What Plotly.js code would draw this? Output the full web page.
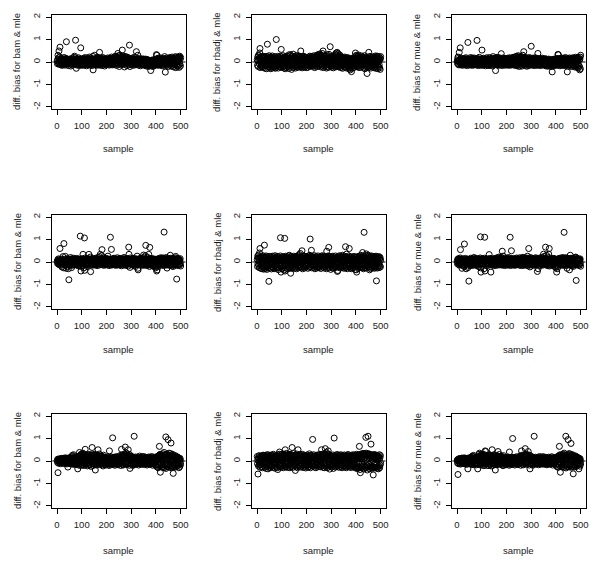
<!DOCTYPE html>
<html>
<head>
<meta charset="utf-8">
<script src="https://cdn.plot.ly/plotly-3.0.1.min.js"></script>
<style>html,body{margin:0;padding:0;background:#fff;}#chart{width:600px;height:565px;}</style>
</head>
<body>
<div id="chart"></div>
<script>
// x tick labels, y tick labels, axis titles
const xTickVals = [0, 100, 200, 300, 400, 500];
const xTickText = ['0', '100', '200', '300', '400', '500'];
const yTickVals = [-2, -1, 0, 1, 2];
const yTickText = ['-2', '-1', '0', '1', '2'];
const xTitle = 'sample';
const yTitles = ['diff. bias for bam & mle', 'diff. bias for rbadj & mle', 'diff. bias for mue & mle'];

// Row 1
const bamR1 = [
.05,-.08,.12,.3,-.04,.18,.02,.49,-.1,.08,.22,.66,-.06,.1,-.12,.04,.15,-.02,.07,-.15,.11,.01,-.09,.14,-.03,
.06,-.11,.09,.2,-.05,.03,-.14,.12,.0,-.07,.16,.04,.9,-.1,.08,-.02,.13,-.08,.05,.1,-.16,.02,.07,-.04,.11,
-.06,.08,.14,-.1,.03,-.18,.09,.01,.12,-.05,.07,-.13,.17,.02,-.08,.1,-.03,.06,.21,-.12,.26,.04,-.07,.13,.97,
.02,-.09,-.28,.11,.05,-.14,.08,.15,-.02,.06,-.11,.19,.0,-.06,.09,-.16,.12,.03,-.08,.14,.63,-.04,.07,-.12,.1,
.04,-.07,.13,-.15,.06,.02,-.1,.17,-.03,.09,-.13,.05,.11,-.06,.2,-.09,.01,.14,-.17,.07,.03,-.05,.12,-.11,.08,
.15,-.02,.06,-.14,.1,.22,-.08,.03,-.12,.09,.18,-.06,.01,.13,-.1,.05,-.16,.11,.07,.25,-.35,.02,-.09,.12,.04,
-.06,.3,.08,-.12,.14,.02,-.07,.19,-.15,.05,.1,-.03,.16,-.1,.07,.21,-.05,.12,-.14,.04,.09,.43,-.08,.13,.01,
-.11,.06,.17,-.04,.1,-.16,.03,.12,-.08,.2,-.02,.07,-.13,.15,.0,-.06,.11,-.18,.05,.09,-.1,.14,-.03,.08,-.12,
.06,.13,-.07,.02,.18,-.11,.09,-.04,.15,.01,-.14,.1,.05,-.08,.16,-.02,.12,-.1,.07,.22,-.05,.03,-.13,.11,.08,
.17,-.06,.1,.02,-.12,.2,.05,.24,-.09,.14,.07,-.03,.26,.12,-.15,.18,.04,-.07,.21,.09,.38,-.1,.15,.28,.02,
.13,-.2,.22,.06,.3,-.04,.17,.1,-.13,.25,.03,.19,-.08,.53,.14,-.05,.27,.08,-.11,.2,.01,.16,-.22,.11,.24,
.07,-.09,.18,.12,-.03,.23,.05,-.16,.14,.09,-.06,.2,.02,-.12,.16,.08,-.04,.75,.11,-.2,.06,.15,-.08,.1,.03,
-.13,.12,.05,-.07,.18,.0,-.1,.14,.08,-.15,.04,.11,-.05,.21,-.09,.06,.13,-.02,.09,-.12,.46,.03,-.08,.15,.01,
-.06,.3,.1,-.14,.07,.02,-.1,.16,-.04,.11,.05,-.17,.08,.13,-.02,-.09,.06,.12,-.13,.03,.09,-.07,.14,.0,-.11,
.04,-.08,.1,-.15,.02,.07,-.12,.13,-.05,.01,-.18,.08,-.03,.11,-.1,.05,-.14,.0,.09,-.2,.03,-.07,.06,-.16,.02,
-.09,.05,-.13,-.38,.01,-.06,.08,-.17,-.02,.04,-.11,.07,-.2,-.04,.1,-.08,.02,-.15,.06,-.1,.12,-.05,.0,-.14,.09,
-.07,.33,.14,.3,-.12,.06,.1,-.04,.17,-.15,.08,.02,-.1,.13,-.06,.19,.04,-.13,.09,-.02,.15,-.09,.07,.11,-.17,
.05,-.08,.12,.01,-.14,.09,.16,-.05,.03,.24,-.11,.07,-.45,.13,-.03,.1,-.16,.06,.18,-.07,.02,-.12,.14,.08,-.2,
.11,-.04,.17,.06,-.13,.09,.2,-.09,.03,.14,-.18,.07,-.02,.12,.22,-.15,.05,-.07,.16,.1,-.22,.04,.13,-.1,.08,
.19,-.12,.06,.24,-.25,.1,.02,-.16,.15,.07,-.08,.21,-.2,.13,.05,-.14,.09,.22,-.24,.17,.26,-.1,.12,-.18,.2
];
const rbadjR1 = [
.1,-.15,.22,.05,-.2,.3,.12,.28,-.08,.18,.4,.6,-.25,.15,.02,-.18,.24,-.1,.08,-.22,.19,.03,-.14,.26,-.05,
.13,-.24,.07,.21,-.12,.16,-.28,.04,.2,-.09,.25,-.16,.1,-.3,.14,.01,.79,-.2,.09,.23,-.13,.17,-.06,.28,-.22,
.06,-.26,.19,-.11,.12,-.3,.22,.02,-.17,.15,-.07,.27,-.21,.09,-.14,.2,.04,-.25,.13,-.03,.24,-.19,.11,-.28,.16,
.07,-.12,1.0,-.23,.18,.03,-.16,.25,-.06,.14,-.27,.1,.21,-.09,.05,-.2,.17,-.13,.26,-.04,.12,-.24,.56,.08,-.15,
.19,-.07,.13,-.22,.28,.02,-.18,.1,-.27,.16,.05,-.12,.23,-.3,.09,.15,-.05,.2,-.24,.11,.27,-.14,.04,.18,-.1,
.24,-.2,.08,-.29,.14,.33,-.11,.06,-.23,.19,.31,-.17,.02,.22,-.33,.12,-.08,.26,-.15,.09,.35,-.25,.15,-.04,.2,
-.19,.1,.25,-.13,.03,-.27,.17,.07,-.21,.29,-.09,.13,-.16,.22,-.02,.18,-.24,.11,-.06,.27,.05,-.14,.2,-.1,.15,
-.22,.49,.08,-.17,.23,-.05,.12,-.26,.19,.02,-.12,.16,-.2,.09,.25,-.08,.14,-.23,.06,.21,-.15,.11,-.03,.18,-.25,
.07,.2,-.13,.04,-.24,.15,.1,-.07,.22,-.18,.03,.13,-.11,.26,-.02,.17,-.2,.08,-.14,.24,.05,-.09,.19,-.16,.12,
-.05,.23,-.19,.1,.28,-.12,.06,-.25,.16,.02,-.15,.2,.09,-.08,.25,-.21,.13,.3,-.1,.18,-.04,.33,-.17,.11,.27,
-.14,.21,.07,.36,-.09,.16,-.22,.3,.12,-.06,.24,-.18,.04,.38,-.13,.19,.49,-.25,.1,.28,-.07,.15,-.2,.23,.02,
-.16,.26,.09,-.11,.18,-.27,.32,.05,-.2,.14,.22,-.08,.1,-.24,.17,.34,-.12,.27,-.04,.13,.68,-.19,.21,.06,-.15,
.11,-.23,.17,.03,-.13,.25,-.07,.2,-.26,.09,.15,-.18,.28,.01,-.1,.22,.35,-.16,.13,.4,-.21,.07,.3,.43,-.09,
.18,-.14,.37,.05,-.22,.26,-.06,.12,-.19,.31,.08,-.11,.2,-.25,.14,.02,-.17,.23,-.08,.16,-.28,.1,.04,-.13,.19,
-.2,.07,.15,-.1,.22,-.24,.03,.12,-.16,.18,-.05,-.27,.09,.14,-.12,.2,-.19,.01,.11,-.22,.16,-.08,-.3,.06,.13,
-.15,-.35,.08,-.2,.1,-.26,-.43,.04,-.12,.17,-.28,.02,.12,-.18,.06,-.1,.15,-.24,.2,-.07,.11,-.05,.4,-.16,.26,
-.09,.3,.14,-.21,.07,.19,-.13,.24,.02,-.17,.31,.1,-.25,.16,-.06,.22,-.11,.05,.18,-.23,.12,-.02,.27,-.14,.08,
-.19,.21,.03,-.12,.15,-.26,.09,.2,-.08,.28,-.3,.13,.05,-.2,.17,-.1,.23,-.15,.07,-.51,.14,-.04,.19,-.24,.11,
-.13,.43,.06,-.22,.18,-.09,.25,.01,-.17,.14,-.27,.1,.2,-.06,.16,-.2,.08,-.14,.23,-.03,.12,-.25,.17,.04,-.11,
.21,-.18,.09,.27,-.28,.13,-.07,.19,-.23,.05,.26,-.15,.1,-.3,.16,.02,-.21,.24,-.12,.08,-.26,.18,-.33,.14,.24
];
const mueR1 = [
.04,-.06,.15,.22,-.1,.08,.02,-.13,.43,.11,.06,-.04,.63,.09,-.12,.17,.01,-.08,.12,-.03,.07,-.15,.1,.05,-.09,
.13,-.02,.06,-.11,.16,.03,-.07,.1,-.14,.08,.19,-.05,.02,.12,-.1,.07,-.16,.14,.87,-.08,.04,.11,-.13,.01,.09,
-.05,.14,-.12,.07,.2,-.09,.03,.11,-.15,.06,.17,-.02,.09,-.1,.13,.0,-.14,.08,.18,-.06,.1,-.11,.05,.15,-.03,
.08,-.13,.12,.04,-.07,.96,.16,-.1,.02,.09,-.16,.13,-.04,.07,.21,-.12,.05,.1,-.08,.14,-.02,.06,-.15,.11,.03,
.53,-.09,.12,.05,-.14,.08,.17,-.04,.1,-.11,.02,.15,-.07,.09,-.17,.13,.04,-.1,.06,.19,-.05,.11,-.13,.07,.01,
.14,-.08,.1,-.16,.05,.2,-.12,.08,.02,-.06,.13,-.1,.16,.04,-.14,.09,-.03,.12,-.18,.06,.24,-.09,.11,-.05,.15,
.03,-.12,.09,.18,-.07,-.38,.12,-.02,.16,-.1,.06,.21,-.13,.08,.01,-.09,.14,.05,-.15,.11,.19,-.04,.07,-.11,.13,
.02,-.08,.15,.37,-.12,.09,.05,-.16,.12,-.03,.18,.07,-.1,.14,-.06,.1,.01,-.13,.16,-.02,.08,-.14,.11,.04,-.09,
.13,-.05,.09,-.12,.17,.02,-.08,.14,-.15,.06,.1,-.03,.19,-.11,.07,.12,-.06,.04,-.14,.16,.08,-.1,.11,-.02,.15,
-.07,.21,.05,-.12,.13,.09,-.04,.18,-.15,.1,.23,-.08,.06,.15,-.11,.26,.02,-.17,.12,.2,-.05,.09,.28,-.13,.16,
.04,-.2,.14,.22,-.09,.11,.18,-.14,.07,.24,-.06,.13,-.18,.19,.03,.3,-.1,.15,.08,.46,-.12,.17,-.04,.1,.21,
-.15,.09,.16,-.07,.12,.02,-.19,.14,.06,-.1,.18,-.03,.11,-.16,.08,.13,-.05,.2,-.12,.04,.15,-.08,.1,-.14,.7,
.06,-.11,.14,.01,-.07,.17,-.13,.09,.12,-.04,.15,-.16,.05,.1,-.09,.19,.03,-.12,.08,.13,-.06,.11,-.15,.07,.16,
-.02,.38,.09,-.13,.12,.04,-.08,.15,-.11,.06,.1,-.16,.13,.02,-.07,.11,-.14,.08,.17,-.05,.03,-.12,.1,-.09,.14,
-.06,.07,-.13,.11,.01,-.1,.15,-.17,.05,.09,-.08,.12,-.14,.03,.08,-.19,.1,-.05,.06,-.12,.13,-.02,-.16,.07,.04,
-.11,.09,-.07,-.2,.05,-.14,.11,-.03,.02,-.44,.08,-.12,.06,-.18,.12,-.06,.03,-.15,.1,-.09,.07,-.13,.14,.0,-.1,
.12,-.05,.08,-.15,.16,.02,-.09,.34,.11,.32,-.12,.06,.15,-.07,.1,-.17,.04,.13,-.03,.09,-.14,.18,.01,-.1,.12,
.07,-.13,.16,.03,-.08,.11,-.16,.05,.14,-.04,.09,-.11,.2,.02,-.14,.12,-.06,.08,.17,-.1,-.44,.04,.13,-.18,.1,
-.03,.15,-.12,.07,.18,-.09,.11,.02,-.15,.13,.05,-.2,.09,.16,-.07,.12,-.13,.04,.19,-.1,.08,-.16,.14,.01,-.22,
.1,.17,-.14,.06,.21,-.18,.12,-.08,.15,-.24,.09,.18,-.12,.04,-.27,.14,.2,-.16,.08,-.2,-.35,.13,.22,-.3,.3
];

// Row 2
const bamR2 = [
.03,-.06,.1,-.02,.07,.14,-.09,.05,-.12,.08,.01,.6,-.04,.11,-.15,.06,.02,-.08,.13,-.22,.04,.09,-.05,.24,-.1,
.07,-.26,.82,.03,-.11,.12,-.03,.06,.25,-.14,.09,-.28,.02,.1,-.07,.15,-.2,.04,-.1,.08,-.3,.13,-.79,.05,-.16,
.11,-.04,.07,-.12,.2,.02,-.08,.14,-.25,.06,.1,-.15,.03,.09,-.06,.12,-.1,.17,.01,-.13,.08,.05,-.07,.11,-.02,
.13,-.09,.04,.16,-.14,.07,.1,-.05,.02,-.11,.14,.06,-.18,.09,.03,-.07,.12,-.13,1.15,.05,-.2,-.4,.1,-.03,.08,
.15,-.1,.06,-.16,.34,.02,-.08,.12,-.26,.04,1.07,-.37,.09,.18,-.12,.03,.07,-.05,.13,-.19,.1,.0,-.09,.15,.06,
-.11,.08,.14,.34,-.06,.11,.03,-.15,.09,.22,-.43,.05,-.08,.12,.02,-.12,.16,.07,-.04,.1,-.14,.06,.13,-.1,.04,
.09,-.07,.12,-.13,.05,.17,-.02,.08,-.11,.14,.03,-.16,.1,.06,-.09,.2,-.05,.12,.01,-.14,.08,.24,-.06,.11,.34,
.05,-.1,.15,.07,-.04,.28,.55,-.12,.09,.02,-.07,.13,.18,-.15,.06,.1,-.03,.14,-.09,.04,.11,-.13,.08,.16,-.06,
.12,.02,-.1,.07,.14,.26,-.08,.05,.11,-.16,.03,.09,-.05,.13,-.12,1.1,.06,-.07,.1,.56,-.14,.04,.12,-.03,.08,
-.11,.15,.01,-.06,.1,.17,-.13,.07,.04,-.09,.12,-.02,.08,-.15,.13,.05,-.07,.1,.19,-.12,.03,.09,-.05,.14,-.1,
.06,.11,-.14,.02,.16,-.07,.09,-.11,.13,.04,-.17,.08,.12,-.03,.07,-.13,.15,.01,-.08,.1,.2,-.1,.05,.11,-.06,
.13,-.15,.08,.03,-.09,.16,.06,-.12,.1,-.04,.14,.02,-.18,.09,.66,.34,-.07,.12,.05,-.24,.11,.18,-.1,.07,-.03,
.14,.08,-.13,.05,.1,-.06,.17,-.11,.03,.12,-.08,.06,-.16,.09,.15,-.04,.11,-.2,.07,.02,-.12,.13,.04,.26,-.09,
.1,-.28,-.35,.06,.12,-.1,.08,.15,-.05,.03,-.14,.11,.07,-.08,.16,.02,-.12,.09,.13,-.06,.18,-.15,.05,.1,.31,
-.07,.12,.22,-.13,.06,.09,-.04,.28,.74,-.1,.14,.03,-.16,.1,.07,-.09,.2,.05,-.12,.11,.34,-.06,.15,-.2,.65,
.08,-.14,.12,.03,-.08,.16,-.11,.05,.1,-.05,.13,-.17,.07,.02,-.1,.14,.06,-.13,.09,-.22,.04,.11,-.07,-.26,.12,
-.15,.05,-.4,.09,-.35,.1,-.08,.14,-.2,.03,.07,-.12,.11,.16,-.06,.08,.13,-.1,.02,.19,-.13,.06,.1,-.04,.15,
.07,-.09,.12,.18,-.16,.04,.1,1.33,-.07,.13,.02,-.11,.16,.06,-.14,.09,.2,-.05,.11,-.27,.08,-.12,.15,-.08,.03,
.12,-.06,.1,-.15,.05,.14,-.1,.3,.02,-.13,.17,.07,-.04,.11,-.18,.09,.13,-.08,.04,-.2,.15,.06,-.12,.1,-.05,
.14,-.1,.08,.19,.25,-.14,.11,.03,-.76,-.07,.12,.16,-.12,.05,.09,-.16,.13,.02,-.09,.1,-.13,.07,.15,-.06,-.18
];
const rbadjR2 = [
.12,-.2,.26,-.08,.18,.3,-.15,.05,-.25,.4,.15,.6,-.1,.22,-.28,.09,.2,-.18,.02,-.3,.14,.24,-.12,.28,-.22,
.1,-.32,.19,-.05,.75,-.24,.16,.04,-.29,.21,-.13,.27,-.2,.08,-.33,.23,-.07,.13,-.26,.18,-.16,.02,-.86,.25,-.11,
.15,-.27,.08,-.14,.24,-.06,.19,-.31,.11,.02,-.21,.26,-.09,.17,-.25,.12,-.03,.22,-.3,.07,.14,-.18,.28,-.12,.05,
-.23,.2,.1,-.28,.16,-.07,.25,-.19,.03,.13,-.34,.21,-.1,.06,-.26,.18,.09,-.15,.27,1.08,-.2,-.45,.14,-.05,.22,
-.3,.11,.19,-.13,.24,-.22,.06,.15,-.36,.09,.2,1.05,-.4,.12,-.17,.26,-.08,.18,-.27,.04,.23,-.14,.1,-.31,.17,
.02,-.22,.27,-.11,.14,.3,-.25,.08,-.18,.21,-.5,.13,-.06,.24,-.29,.1,.17,-.15,.03,-.24,.19,.07,-.2,.26,-.09,
.16,-.28,.11,.22,-.13,.05,-.23,.18,.09,-.3,.25,-.04,.14,-.19,.28,.02,-.16,.21,-.26,.12,.33,-.1,.07,-.21,.38,
-.14,.23,.1,-.25,.17,-.06,.5,.2,-.3,.12,-.18,.27,.04,-.22,.15,-.1,.25,-.27,.08,.19,-.12,.13,-.2,.06,.24,
-.17,.11,.21,-.08,.16,-.28,.26,.03,-.14,.2,-.23,.1,.3,-.05,1.02,.15,-.2,.07,.25,.52,-.26,.12,-.1,.18,-.15,
.22,-.09,.14,-.24,.06,.19,-.16,.28,-.3,.11,.02,-.2,.24,-.12,.16,.08,-.27,.2,-.04,.13,-.22,.27,.05,-.17,.1,
-.25,.18,.07,-.13,.23,-.06,.15,-.29,.12,.26,-.19,.04,.2,-.1,.28,-.23,.09,.16,-.15,.03,.22,-.27,.13,-.08,.19,
-.2,.11,.25,-.14,.06,-.3,.48,.2,-.11,.14,-.24,.27,-.05,.17,.65,-.18,.09,-.26,.22,.01,-.13,.18,-.33,.12,.24,
-.16,.08,.2,-.23,.13,-.07,.26,-.28,.1,.16,-.12,.04,-.25,.21,.07,-.19,.15,.27,-.09,.12,-.24,.18,.02,-.15,-.42,
.2,-.38,.1,.25,-.14,.06,-.22,.17,.28,-.1,.13,-.27,.08,.21,-.17,.03,.24,-.2,.11,-.06,.3,-.24,.15,.05,-.12,
.19,-.28,.09,.26,-.15,.12,-.2,.68,.04,-.25,.22,.35,-.09,.16,-.3,.1,.2,-.13,.07,-.22,.27,-.05,.6,.13,-.18,
.08,-.24,.18,-.11,.23,-.3,.14,.02,-.19,.21,-.08,.12,-.27,.16,.05,-.15,.25,-.22,.09,-.04,.19,-.33,.11,-.13,.2,
-.35,.07,-.45,.15,-.2,.24,-.1,.12,-.28,.18,.03,-.16,.22,-.07,.27,-.24,.1,.16,-.12,.3,-.19,.06,.21,-.26,.13,
-.05,.42,.19,-.22,.11,-.3,.25,1.32,-.14,.17,.08,-.25,.29,-.09,.2,-.18,.36,.04,-.27,.14,-.11,.23,-.2,.1,.3,
-.16,.26,-.23,.12,-.35,.2,-.07,.16,-.3,.24,.05,-.19,.27,-.12,.14,-.26,.09,.22,-.15,.18,-.04,.25,-.21,.11,-.28,
.17,.06,-.24,.21,-.13,.26,-.18,-.84,.12,-.09,.23,-.27,.15,.03,-.2,.19,-.11,.24,-.25,.1,.16,-.16,.2,-.22,.08
];
const mueR2 = [
.05,-.08,.12,-.03,.09,.15,-.1,.02,-.14,.07,.11,-.05,.18,.55,-.12,.06,.13,-.07,.03,-.28,.1,.04,-.16,.08,-.02,
.14,-.11,.06,-.2,.8,.01,-.13,.09,.16,-.06,.04,-.3,.11,-.09,.07,.13,-.18,.02,-.25,.1,-.08,.05,-.85,.12,-.04,
.08,-.15,.1,.03,-.07,.17,-.12,.06,.13,-.04,.09,-.16,.02,.11,-.1,.15,-.06,.07,.2,-.13,.04,.1,-.08,.14,-.02,
.06,-.12,.16,-.05,.09,.02,-.17,.11,.05,-.09,.13,-.2,.07,.03,-.11,.14,-.06,.1,.18,1.12,-.26,-.45,.08,-.03,.12,
-.1,.07,.15,-.14,.04,.1,-.07,.12,-.3,.06,.17,1.1,-.4,.09,-.12,.13,.02,-.06,.11,-.16,.08,.14,-.03,.05,-.09,
.12,-.15,.07,.1,.33,-.08,.05,.16,-.11,.02,.09,-.45,.13,-.05,.08,-.13,.11,.04,-.1,.15,-.07,.06,.12,-.17,.03,
.1,-.06,.14,.03,-.12,.08,.17,-.09,.05,.11,-.15,.02,.13,-.04,.19,.07,-.11,.1,.22,-.07,.14,.04,-.13,.09,.16,
-.05,.12,.2,-.1,.07,.15,-.14,.48,.03,-.08,.11,.26,-.12,.06,.14,-.03,.1,-.16,.08,.18,-.06,.13,.01,-.11,.09,
.15,-.09,.05,.12,-.14,.1,.03,.2,-.07,.13,-.12,.06,.17,-.04,1.1,.09,-.16,.11,.02,.5,-.08,.14,-.11,.07,.12,
-.03,.1,-.13,.16,.05,-.09,.12,.04,-.15,.08,.14,-.06,.11,.02,-.12,.18,-.05,.09,.13,-.1,.06,.15,-.08,.03,.11,
-.14,.07,.12,.19,-.06,.1,-.11,.14,.04,-.16,.09,.16,-.03,.12,-.13,.06,.21,-.08,.11,.03,-.15,.13,.08,-.1,.17,
.05,-.12,.1,.15,-.07,.18,.02,-.14,.11,.26,-.05,.09,-.17,.13,.6,.07,-.1,.16,.04,-.22,.12,.2,-.08,.06,-.13,
.11,.17,-.06,.08,.14,-.11,.04,.1,-.15,.07,.13,-.03,.16,-.09,.05,.12,-.13,.19,.02,-.07,.1,.15,-.12,.06,-.42,
.14,-.1,-.3,.07,.12,-.05,.17,-.13,.09,.03,-.16,.11,.06,-.08,.15,.2,-.11,.04,.13,-.06,.1,-.14,.08,.18,.35,
-.05,.12,.25,-.11,.08,.14,-.07,.66,.03,-.13,.16,.3,-.09,.1,.05,-.16,.22,.07,-.12,.13,.35,-.04,.6,-.18,.11,
.06,-.13,.1,.17,-.08,.12,-.15,.04,.09,-.06,.14,-.11,.07,.02,-.14,.11,.16,-.1,.05,-.2,.13,.08,-.07,-.25,.1,
-.16,.06,-.45,.11,-.3,.08,-.1,.14,-.2,.03,.12,-.13,.09,.16,-.05,.1,.13,-.11,.04,.18,-.14,.07,.12,-.06,.15,
.09,-.08,.14,.2,-.15,.05,.11,1.32,-.09,.13,.03,-.12,.17,.07,-.16,.1,.19,-.04,.12,-.28,.08,-.1,.15,-.07,.04,
.13,-.06,.09,-.14,-.35,.15,-.1,.3,.02,-.12,.17,.08,-.05,.12,-.17,.1,.14,-.08,.06,-.2,.16,.04,-.13,.11,-.06,
.15,-.1,.09,.2,.22,-.13,-.82,.12,.04,-.08,.13,.16,-.11,.06,.1,-.15,.12,.03,-.09,.11,-.14,.08,.14,-.05,-.19
];

// Row 3
const bamR3 = [
.02,-.06,.08,-.52,.04,-.1,.07,.01,-.05,.1,-.08,.03,.06,-.12,.09,-.02,.05,-.07,.12,.0,-.09,.06,-.04,.11,-.1,
.04,-.07,.09,.13,-.03,.05,-.11,.08,.02,-.06,.14,-.09,.06,.1,-.13,.03,.07,-.05,-.27,.11,-.08,.04,.12,-.1,.06,
.15,-.04,.08,-.12,.1,.03,-.08,.18,.06,-.14,.12,.25,-.06,.09,.2,-.1,.28,.04,-.15,.13,.07,-.09,.16,.01,-.12,
.1,.05,-.16,.14,-.07,.2,.08,-.11,-.35,.12,.03,-.18,.22,.06,-.13,.38,.15,-.09,.25,-.2,.1,.3,-.05,.18,-.14,
.24,.07,-.17,.35,.12,-.08,.27,.02,-.2,.16,.3,-.12,.09,.52,-.06,.21,-.15,.11,.26,-.1,.04,.19,-.22,.14,.28,
-.08,.17,.05,-.19,.23,.1,-.13,.29,.02,-.16,.2,.13,-.24,.08,.26,-.1,.6,.15,-.07,.22,-.2,.04,.18,-.12,.3,
.06,-.15,.25,.11,-.4,.19,-.09,.14,.27,-.18,.03,.21,-.11,.16,.08,.5,-.14,.22,.1,-.06,.31,-.16,.13,.05,-.1,
.18,.02,-.13,.24,-.07,.12,.2,-.17,.09,.15,-.22,.06,.26,-.1,.11,-.04,.17,.03,-.15,.13,-.08,.1,-.18,.07,.14,
-.11,.05,.16,-.06,.1,-.14,.19,.02,-.09,.12,-.2,.45,.07,-.12,.15,.03,-.17,.11,-.05,.18,.08,-.13,.14,-.08,1.03,
.09,-.16,.12,.04,-.1,.17,-.06,.13,-.19,.07,.02,-.12,.15,.1,-.08,.2,-.14,.05,.11,-.03,.16,-.17,.08,.13,-.1,
.06,.18,-.12,.1,.24,-.07,.14,-.2,.09,.21,.52,-.1,.16,.28,-.15,.12,.05,-.18,.25,.1,-.06,.19,-.13,.3,.08,
.62,-.11,.27,.14,-.05,.35,.2,-.16,.3,.09,-.12,.25,.5,-.08,.17,.22,-.19,.11,.28,-.33,.06,.15,-.1,.19,.03,
-.14,.12,.2,-.07,.1,-.2,.16,.04,-.11,.13,-.16,1.1,.08,-.05,.15,-.12,.09,.18,-.08,.03,-.15,.11,.06,-.1,.14,
.05,-.12,.17,.08,-.18,.11,-.04,.14,.22,-.1,.07,-.14,.12,.02,-.08,.16,.1,-.15,.05,.19,-.11,.08,.13,-.06,.2,
-.09,.11,.04,-.16,.14,.07,-.1,.17,-.05,.12,-.13,.09,.03,-.18,.15,.06,-.11,.13,-.07,.1,.18,-.14,.05,.12,-.09,
.08,-.15,.16,.02,-.1,.13,-.06,.2,-.13,.09,.04,-.19,.12,.15,-.08,.06,-.14,.11,.03,-.1,.17,-.05,.09,-.16,.13,
-.2,.14,.05,-.26,.18,.1,-.15,.22,-.3,.08,.16,-.12,.25,.65,-.22,.11,.3,-.5,.19,-.08,.27,-.18,.06,.2,-.28,
.13,.24,-.15,.32,-.24,.09,.2,.38,-.3,.16,-.1,.28,-.2,.12,1.07,-.33,.26,.05,-.17,.3,-.26,.14,-.12,.95,.22,
-.18,.25,.35,-.27,.15,.08,-.22,.33,-.14,.2,.8,-.3,.12,.26,-.2,.1,.3,-.25,.04,-.55,.23,-.16,.18,-.28,.14,
.07,-.2,.24,-.12,.16,-.26,.1,.2,-.15,.05,.18,-.22,.12,-.08,.15,-.18,.09,-.3,.13,-.1,.06,-.24,.11,.02,-.14
];
const rbadjR3 = [
.2,-.12,.05,-.58,.15,-.22,.1,-.05,.24,-.18,.08,-.28,.17,.02,-.15,.22,-.08,.13,-.25,.06,.19,-.3,.11,-.1,.26,
-.2,.09,.25,-.14,.03,.2,-.27,.14,-.06,.23,-.33,.1,.18,-.12,.28,-.22,.05,.16,-.35,.12,-.04,.27,-.19,.08,-.26,
.21,-.1,.15,-.3,.06,.26,-.16,.11,-.24,.19,.02,-.2,.25,-.08,.14,.3,-.28,.09,.18,-.13,.22,-.32,.07,.16,-.18,
.24,-.07,.13,-.25,.2,.04,-.3,.17,-.38,.1,.26,-.15,.08,-.22,.3,.4,-.12,.21,-.27,.14,.05,-.2,.28,-.09,.18,
-.24,.12,.32,-.16,.22,-.3,.07,.27,-.2,.15,.3,-.11,.19,.5,-.26,.1,.24,-.18,.04,.34,-.14,.2,-.29,.13,.25,
-.09,.18,-.23,.3,.06,-.17,.26,-.3,.12,.21,-.13,.28,-.25,.09,.16,-.2,.6,.23,-.06,.14,-.28,.33,.02,-.15,.25,
.1,-.21,.18,.05,-.42,.27,-.12,.2,-.26,.14,.31,-.08,.22,-.3,.11,.5,-.17,.25,.03,-.23,.16,-.1,.29,-.19,.08,
.21,-.27,.13,.24,-.1,.07,-.22,.3,-.15,.17,.02,-.29,.19,.1,-.18,.26,-.06,.12,-.24,.2,.05,-.31,.15,-.12,.23,
-.2,.09,.27,-.14,.16,-.28,.04,.21,-.1,.13,-.25,.32,.07,-.17,.24,-.3,.11,.18,-.08,.26,-.21,.14,.02,-.16,.96,
.19,-.23,.1,.28,-.12,.15,-.27,.06,.22,-.18,.12,.03,-.3,.2,-.09,.25,-.2,.08,.17,-.14,.27,-.06,.11,-.25,.16,
-.11,.23,.04,-.19,.29,-.26,.14,.08,-.15,.21,.5,-.22,.12,.3,-.08,.18,-.28,.06,.26,-.13,.2,-.3,.1,.33,-.17,
.55,.14,-.24,.28,-.1,.38,.2,-.3,.12,.24,-.16,.07,.45,-.27,.19,.3,-.2,.1,-.36,.25,.04,-.14,.2,-.23,.13,
-.18,.22,.06,-.26,.16,-.12,.27,.09,-.33,.14,.02,1.02,-.2,.18,-.09,.24,-.27,.11,.2,-.15,.07,-.24,.29,-.06,.15,
-.21,.12,.26,-.13,.04,-.28,.19,.1,-.17,.23,-.08,.15,-.25,.28,.01,-.19,.13,.24,-.3,.08,.18,-.11,.22,-.24,.06,
.16,-.2,.27,-.07,.12,-.26,.2,.05,-.15,.25,-.3,.1,.17,-.12,.22,-.23,.08,.29,-.18,.13,-.05,.24,-.27,.11,.19,
-.14,.07,.23,-.21,.15,-.29,.1,.26,-.09,.18,-.24,.04,.2,-.16,.28,-.11,.13,-.26,.06,.22,-.19,.16,-.31,.09,.25,
-.28,.14,.3,-.2,.08,-.34,.22,.12,-.25,.27,-.1,.17,-.3,.65,.2,-.38,.26,-.52,.1,.31,-.22,.16,-.27,.24,-.14,
.29,-.32,.18,.34,-.2,.1,-.36,.27,.3,-.24,.15,.33,-.28,.21,1.05,-.3,.35,-.18,.26,.12,-.4,.3,-.22,1.1,.28,
-.26,.32,-.15,.22,-.35,.3,.14,-.28,.25,-.2,.75,.18,-.3,.08,.27,-.24,.2,-.33,.13,-.62,.24,-.17,.29,-.27,.12,
.22,-.3,.16,.27,-.2,.1,-.28,.25,-.12,.19,-.33,.23,.06,-.25,.17,-.35,.21,.08,-.22,.28,-.3,.14,-.18,.24,-.1
];
const mueR3 = [
.04,-.08,.06,-.6,.02,-.12,.09,.0,-.06,.11,-.1,.05,.07,-.14,.08,-.03,.1,-.09,.13,-.02,-.1,.07,-.05,.12,-.08,
.03,-.11,.1,.14,-.04,.06,-.13,.09,.01,-.07,.12,-.1,.05,.08,-.15,.02,.11,-.06,-.35,.13,-.09,.05,.1,-.12,.07,
.14,-.05,.09,-.13,.11,.02,-.1,.17,.05,-.16,.13,.22,-.07,.1,.19,-.11,.25,.03,-.17,.12,.08,-.1,.15,.0,-.13,
.12,.04,-.17,.15,-.06,.18,.09,-.12,-.35,.11,.02,-.15,.07,.3,.2,.35,.14,-.1,.24,-.18,.08,.27,-.06,.16,-.12,
.22,.06,-.18,.3,.13,-.07,.25,.01,-.21,.15,.28,-.1,.08,.45,-.05,.42,-.14,.1,.24,-.11,.05,.18,-.2,.13,.26,
-.07,.16,.04,-.2,.21,.11,-.12,.27,.03,-.15,.19,.12,-.22,.07,.24,-.09,.5,.14,-.06,.2,-.19,.05,.17,-.11,.28,
.07,-.14,.23,.1,-.4,.18,-.08,.13,.25,-.17,.04,.2,-.1,.15,.09,.42,-.13,.21,.11,-.05,.29,-.15,.12,.06,-.09,
.17,.03,-.12,.22,-.06,.11,.19,-.16,.08,.14,-.21,.07,.24,-.09,.1,-.03,.16,.04,-.14,.12,-.07,.09,-.17,.06,.13,
-.1,.04,.15,-.05,.09,-.13,.18,.03,-.08,.11,-.19,.4,.06,-.11,.14,.02,-.16,.1,-.04,.17,.07,-.12,.13,-.07,1.0,
.08,-.15,.11,.05,-.09,.16,-.05,.12,-.18,.06,.03,-.11,.14,.09,-.07,.19,-.13,.04,.1,-.02,.15,-.16,.07,.12,-.09,
.05,.17,-.11,.09,.22,-.06,.13,-.19,.08,.2,.45,-.09,.15,.26,-.14,.11,.04,-.17,.23,.09,-.05,.18,-.12,.28,.07,
.55,-.1,.25,.13,-.04,.3,.19,-.15,.27,.08,-.11,.23,.42,-.07,.16,.2,-.18,.1,.26,-.35,.05,.14,-.09,.18,.02,
-.13,.11,.19,-.06,.09,-.19,.15,.03,-.1,.12,-.15,1.1,.07,-.04,.14,-.11,.08,.17,-.07,.02,-.14,.1,.05,-.09,.13,
.04,-.11,.16,.07,-.17,.1,-.03,.13,.2,-.09,.06,-.13,.11,.01,-.07,.15,.09,-.14,.04,.18,-.1,.07,.12,-.05,.19,
-.08,.1,.03,-.15,.13,.06,-.09,.16,-.04,.11,-.12,.08,.02,-.17,.14,.05,-.1,.12,-.06,.09,.17,-.13,.04,.11,-.08,
.07,-.14,.15,.01,-.09,.12,-.05,.19,-.12,.08,.03,-.18,.11,.14,-.07,.05,-.13,.1,.02,-.09,.16,-.04,.08,-.15,.12,
-.19,.13,.04,-.25,.17,.09,-.14,.21,-.28,.07,.15,-.11,.24,.65,-.21,.1,.28,-.5,.18,-.07,.25,-.17,.05,.19,-.27,
.12,.22,-.14,.3,-.23,.08,.19,.35,-.28,.15,-.09,.26,-.19,.11,1.1,-.31,.24,.04,-.16,.28,-.25,.13,-.11,.95,.2,
-.17,.24,.33,-.26,.14,.07,-.21,.31,-.13,.19,.78,-.28,.11,.25,-.19,.09,.28,-.24,.03,-.57,.22,-.15,.17,-.27,.13,
.06,-.19,.23,-.11,.15,-.25,.09,.19,-.14,.04,.17,-.21,.11,-.07,.14,-.17,.08,-.35,.12,-.09,.05,-.23,.1,.01,-.13
];

const panels = [[bamR1, rbadjR1, mueR1], [bamR2, rbadjR2, mueR2], [bamR3, rbadjR3, mueR3]];
const sample = Array.from({length: bamR1.length}, (_, i) => i + 1);

const W = 600, H = 565;
const boxLeft = [52.3, 252.3, 452.3], boxRight = [185.6, 385.6, 585.6];
const boxTop = [15, 215, 414], boxBottom = [109, 309, 508];
const titleY = [148, 349, 550];
const FONT = 'Liberation Sans, Arial, Helvetica, sans-serif';
const TXT = '#1a1a1a';
const FS = 9.5;

const data = [], shapes = [], annotations = [];
const layout = {
  width: W, height: H, margin: {l: 0, r: 0, t: 0, b: 0},
  paper_bgcolor: '#fff', plot_bgcolor: '#fff', showlegend: false,
  font: {family: FONT, size: FS, color: TXT}
};

for (let r = 0; r < 3; r++) {
  for (let c = 0; c < 3; c++) {
    const k = r * 3 + c + 1;
    const xa = k === 1 ? 'x' : 'x' + k, ya = k === 1 ? 'y' : 'y' + k;
    data.push({
      type: 'scatter', mode: 'markers', x: sample, y: panels[r][c],
      xaxis: xa, yaxis: ya, hoverinfo: 'skip',
      marker: {symbol: 'circle-open', size: 6, color: '#000', line: {width: 1, color: '#000'}}
    });
    const axBase = {
      showgrid: false, zeroline: false, showline: true, mirror: true,
      linecolor: '#000', linewidth: 1, ticks: 'outside', ticklen: 5, tickwidth: 1, tickcolor: '#000',
      tickfont: {family: FONT, size: FS, color: TXT}, fixedrange: true, ticklabelstandoff: 3
    };
    layout['xaxis' + (k === 1 ? '' : k)] = Object.assign({}, axBase, {
      domain: [boxLeft[c] / W, boxRight[c] / W], range: [-19, 520], anchor: ya,
      tickmode: 'array', tickvals: xTickVals, ticktext: xTickText
    });
    layout['yaxis' + (k === 1 ? '' : k)] = Object.assign({}, axBase, {
      domain: [1 - boxBottom[r] / H, 1 - boxTop[r] / H], range: [-2.09, 2.09], anchor: xa,
      tickmode: 'array', tickvals: yTickVals, ticktext: yTickText, tickangle: -90
    });
    shapes.push({type: 'line', xref: xa + ' domain', yref: ya, x0: 0, x1: 1, y0: 0, y1: 0,
      line: {color: '#000', width: 1}});
    annotations.push({xref: 'paper', yref: 'paper', x: (boxLeft[c] + boxRight[c]) / 2 / W,
      y: 1 - titleY[r] / H, text: xTitle, showarrow: false, xanchor: 'center', yanchor: 'middle',
      font: {family: FONT, size: FS, color: TXT}});
    annotations.push({xref: 'paper', yref: 'paper', x: (17 + 200 * c) / W,
      y: 1 - (boxTop[r] + boxBottom[r]) / 2 / H, text: yTitles[c], showarrow: false, textangle: -90,
      xanchor: 'center', yanchor: 'middle', font: {family: FONT, size: FS, color: TXT}});
  }
}
layout.shapes = shapes;
layout.annotations = annotations;

Plotly.newPlot('chart', data, layout, {staticPlot: true, displayModeBar: false});
</script>
</body>
</html>
